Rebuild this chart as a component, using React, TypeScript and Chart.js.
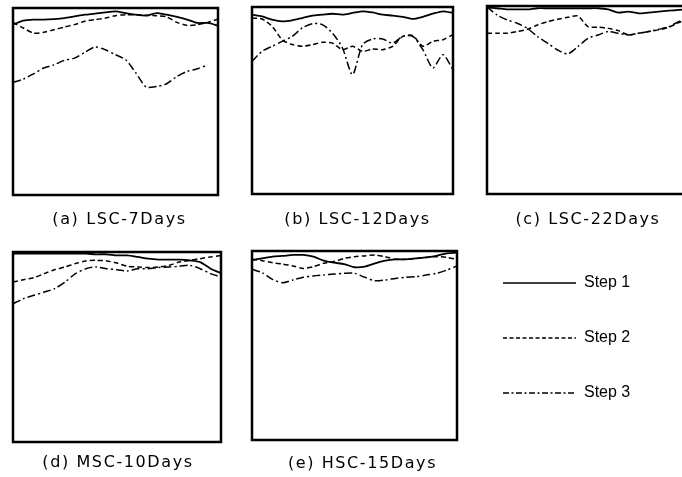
import React, { useEffect, useRef } from "react";
import { Chart, registerables } from "chart.js";
Chart.register(...registerables);

// ---- data ----
const xLabels = ["1","2","3","4","5","6","7","8","9","10","11","12","13","14","15","16","17","18","19","20","21"];
const stepNames = ["Step 1", "Step 2", "Step 3"];
const panelTitles = ["(a) LSC-7Days", "(b) LSC-12Days", "(c) LSC-22Days", "(d) MSC-10Days", "(e) HSC-15Days"];

const lsc7Step1 = [91.1, 93.2, 93.8, 93.8, 94.1, 94.6, 95.5, 96.4, 97.0, 97.7, 98.2, 97.3, 96.4, 95.9, 97.3, 96.4, 95.2, 93.8, 92.0, 92.0, 90.6];
const lsc7Step2 = [92.3, 89.3, 86.6, 87.0, 88.4, 89.8, 91.1, 92.9, 93.8, 94.6, 95.9, 96.4, 96.4, 96.1, 95.9, 95.2, 92.3, 90.7, 91.1, 92.3, 94.1];
const lsc7Step3 = [60.2, 62.0, 64.8, 67.9, 69.6, 72.0, 73.2, 76.3, 79.1, 77.7, 75.0, 72.3, 65.2, 57.7, 58.0, 59.5, 63.4, 66.1, 67.5, 69.6, null];

const lsc12Step1 = [95.9, 95.0, 93.2, 92.3, 92.9, 94.1, 95.4, 95.9, 96.4, 95.9, 96.8, 97.7, 97.1, 95.9, 95.4, 94.7, 93.6, 94.7, 96.4, 97.7, 96.8];
const lsc12Step2 = [94.1, 93.6, 89.7, 82.5, 79.9, 79.0, 79.9, 81.1, 80.7, 77.2, 79.0, 76.3, 77.5, 77.2, 79.0, 84.3, 84.7, 79.0, 81.6, 82.5, 85.2];
const lsc12Step3 = [70.9, 76.3, 79.0, 81.6, 84.3, 88.8, 91.1, 90.6, 86.1, 78.1, 63.8, 79.9, 82.9, 82.9, 80.7, 84.3, 84.3, 77.2, 67.4, 74.5, 66.5];

const lsc22Step1 = [99.3, 98.8, 98.2, 98.2, 98.2, 98.8, 98.8, 98.8, 98.8, 98.8, 98.8, 98.8, 98.2, 96.5, 97.0, 96.1, 96.5, 97.0, 97.5, 97.9, 98.2];
const lsc22Step2 = [85.5, 85.5, 85.5, 86.4, 87.6, 89.9, 91.7, 92.9, 94.0, 94.7, 89.0, 88.7, 88.1, 86.9, 84.6, 85.5, 86.4, 87.3, 88.7, 91.2, 93.5];
const lsc22Step3 = [99.6, 95.2, 92.6, 90.8, 88.1, 83.7, 80.2, 76.6, 74.5, 78.4, 82.8, 84.6, 86.4, 85.5, 84.6, 85.5, 86.4, 87.6, 89.0, 91.7, 94.3];

const msc10Step1 = [99.1, 99.1, 99.1, 99.1, 99.1, 99.1, 99.1, 99.1, 98.8, 98.8, 98.2, 98.2, 97.4, 96.5, 96.0, 96.0, 96.0, 95.6, 94.7, 91.2, 88.9];
const msc10Step2 = [84.2, 85.4, 86.5, 88.6, 90.7, 92.1, 93.9, 95.3, 95.6, 95.3, 94.2, 92.5, 92.1, 91.8, 92.1, 93.0, 94.7, 95.6, 96.5, 97.4, 98.2];
const msc10Step3 = [72.8, 75.4, 77.2, 78.9, 80.7, 84.2, 88.6, 91.2, 92.1, 91.2, 90.7, 90.0, 91.2, 91.2, 91.8, 92.1, 92.5, 93.0, 91.2, 88.6, 86.8];

const hsc15Step1 = [95.2, 96.1, 97.0, 97.4, 97.9, 97.9, 97.0, 94.9, 93.8, 93.1, 91.4, 91.7, 93.5, 94.9, 95.6, 95.6, 96.1, 96.6, 97.4, 98.8, 99.1];
const hsc15Step2 = [95.6, 94.9, 93.8, 93.1, 92.1, 90.8, 91.7, 93.5, 94.4, 96.1, 97.0, 97.4, 97.9, 97.0, 95.6, 95.6, 96.1, 96.6, 97.0, 96.6, 95.6];
const hsc15Step3 = [90.3, 88.5, 85.0, 83.2, 84.7, 86.1, 86.8, 87.3, 87.8, 88.2, 88.2, 86.1, 84.3, 84.7, 85.5, 86.1, 86.4, 87.3, 88.2, 89.9, 92.1];

// ---- styles / layout ----
const TITLE_FONT = "'DejaVu Sans', 'Liberation Sans', sans-serif";
const LEGEND_FONT = "'Liberation Sans', Arial, sans-serif";
const lineWidths = [1.8, 1.5, 1.5];
const panelDashes: number[][] = [[], [5, 3], [8, 3, 2, 3]];
const legendDashes: number[][] = [[], [4, 2.5], [6, 2.5, 2, 2.5]];

const panelLayout = [
  { l: 13, t: 8, w: 205, h: 187, titleY: 220, shift: 4 },
  { l: 252, t: 7, w: 201, h: 187, titleY: 220, shift: 5 },
  { l: 487, t: 6, w: 202, h: 188, titleY: 220, shift: 0 },
  { l: 13, t: 252, w: 208, h: 190, titleY: 463, shift: 1 },
  { l: 252, t: 251, w: 205, h: 189, titleY: 464, shift: 8 },
];
const panelSeries = [
  [lsc7Step1, lsc7Step2, lsc7Step3],
  [lsc12Step1, lsc12Step2, lsc12Step3],
  [lsc22Step1, lsc22Step2, lsc22Step3],
  [msc10Step1, msc10Step2, msc10Step3],
  [hsc15Step1, hsc15Step2, hsc15Step3],
];

const boxPlugin = {
  id: "boxFrame",
  afterDatasetsDraw(chart: any) {
    const { ctx, chartArea } = chart;
    ctx.save();
    ctx.setLineDash([]);
    ctx.lineWidth = 2.5;
    ctx.strokeStyle = "#000";
    ctx.strokeRect(chartArea.left, chartArea.top, chartArea.right - chartArea.left, chartArea.bottom - chartArea.top);
    ctx.restore();
  },
};
const spacingPlugin = {
  id: "titleSpacing",
  beforeDraw(chart: any) {
    chart.ctx.letterSpacing = "1.6px";
  },
};

function Panel({ idx }: { idx: number }) {
  const ref = useRef<HTMLCanvasElement>(null);
  const p = panelLayout[idx];
  const padTop = Math.round(p.titleY - (p.t + p.h) - 9.6);
  const W = p.w + 4 + p.shift * 2;
  const H = 2 + p.h + padTop + 22;
  useEffect(() => {
    const chart = new Chart(ref.current!, {
      type: "line",
      data: {
        labels: xLabels,
        datasets: panelSeries[idx].map((d, k) => ({
          label: stepNames[k],
          data: d,
          borderColor: "#000",
          backgroundColor: "#000",
          borderWidth: lineWidths[k],
          borderDash: panelDashes[k],
          pointRadius: 0,
          tension: 0.25,
          fill: false,
          spanGaps: false,
        })),
      },
      options: {
        responsive: false,
        animation: false,
        devicePixelRatio: 1,
        events: [],
        layout: { padding: { top: 2, left: 2, right: 2, bottom: 0 } },
        scales: {
          x: { display: false },
          y: { display: false, min: 0, max: 100 },
          shiftAxis: {
            type: "linear",
            position: "right",
            display: p.shift > 0,
            grid: { display: false, drawTicks: false },
            border: { display: false },
            ticks: { display: false },
            afterFit: (s: any) => { s.width = p.shift * 2; },
          },
        },
        plugins: {
          legend: { display: false },
          tooltip: { enabled: false },
          title: {
            display: true,
            text: panelTitles[idx],
            position: "bottom",
            color: "#000",
            font: { family: TITLE_FONT, size: 16, weight: "normal" },
            padding: { top: padTop, bottom: 2.8 },
          },
        },
      } as any,
      plugins: [boxPlugin, spacingPlugin],
    });
    return () => chart.destroy();
  }, []);
  return (
    <canvas
      ref={ref}
      width={W}
      height={H}
      style={{ position: "absolute", left: p.l - 2, top: p.t - 2, width: W, height: H, display: "block" }}
    />
  );
}

function LegendChart() {
  const ref = useRef<HTMLCanvasElement>(null);
  useEffect(() => {
    const chart = new Chart(ref.current!, {
      type: "line",
      data: {
        labels: [],
        datasets: stepNames.map((name, k) => ({
          label: name,
          data: [],
          borderColor: "#000",
          backgroundColor: "#000",
          borderWidth: lineWidths[k],
          borderDash: panelDashes[k],
          pointRadius: 0,
        })),
      },
      options: {
        responsive: false,
        animation: false,
        devicePixelRatio: 1,
        events: [],
        scales: { x: { display: false }, y: { display: false } },
        plugins: {
          tooltip: { enabled: false },
          legend: {
            display: true,
            position: "top",
            align: "start",
            maxHeight: 400,
            labels: {
              usePointStyle: true,
              pointStyle: "line",
              pointStyleWidth: 73,
              padding: 39,
              color: "#000",
              font: { family: LEGEND_FONT, size: 16 },
              generateLabels: (c: any) =>
                (Chart.defaults.plugins.legend.labels.generateLabels as any)(c).map((it: any, i: number) => ({
                  ...it,
                  lineDash: legendDashes[i],
                  lineWidth: 1.6,
                  strokeStyle: "#000",
                  pointStyle: "line",
                })),
            },
          },
        },
      } as any,
    });
    return () => chart.destroy();
  }, []);
  return (
    <canvas
      ref={ref}
      width={217}
      height={240}
      style={{ position: "absolute", left: 464, top: 236, width: 217, height: 240, display: "block" }}
    />
  );
}

export default function App() {
  return (
    <div style={{ position: "absolute", left: 0, top: 0, width: 682, height: 477, overflow: "hidden", background: "#fff" }}>
      {panelLayout.map((_, i) => (
        <Panel key={i} idx={i} />
      ))}
      <LegendChart />
    </div>
  );
}
